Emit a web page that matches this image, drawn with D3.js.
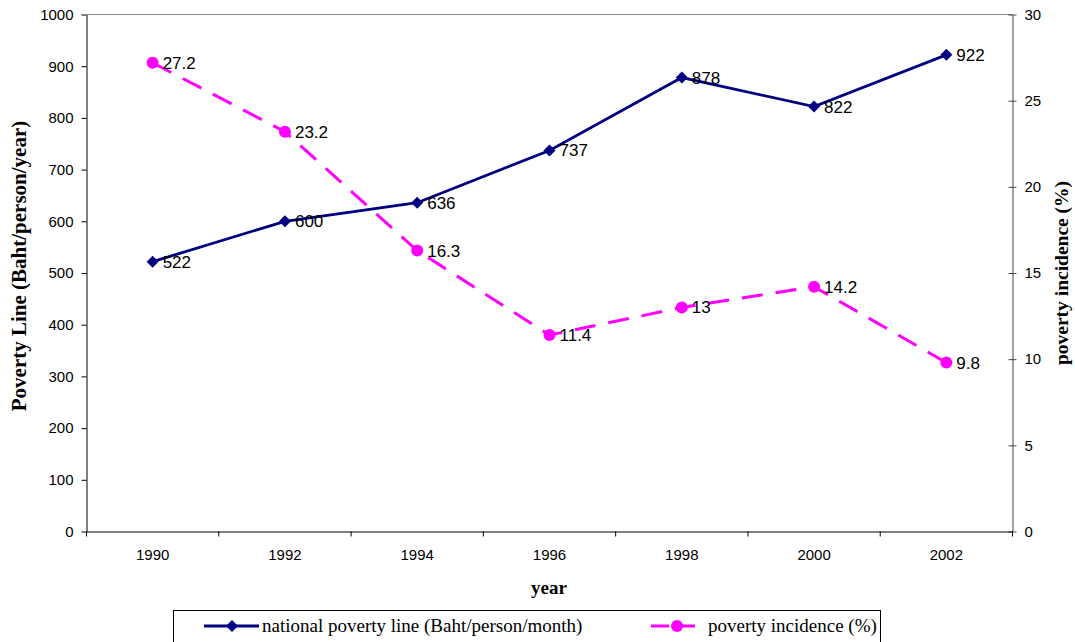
<!DOCTYPE html>
<html><head><meta charset="utf-8">
<script src="https://cdn.jsdelivr.net/npm/d3@7"></script>
<style>body{margin:0;background:#fff}svg{display:block}</style>
</head><body><svg id="c" width="1075" height="642"></svg>
<script>
const years = ["1990","1992","1994","1996","1998","2000","2002"];
const povertyLine = [522,600,636,737,878,822,922];
const povertyIncidence = [27.2,23.2,16.3,11.4,13,14.2,9.8];
const leftTicks = [0,100,200,300,400,500,600,700,800,900,1000];
const rightTicks = [0,5,10,15,20,25,30];

const svg = d3.select("#c");
const L=86.5, R=1012.5, T=14.5, B=531.5;
const x = d3.scaleBand().domain(years).range([L,R]);
const yL = d3.scaleLinear().domain([0,1000]).range([B,T]);
const yR = d3.scaleLinear().domain([0,30]).range([B,T]);
const cx = d => x(d)+x.bandwidth()/2;

// top border
svg.append("line").attr("x1",L).attr("x2",R).attr("y1",T).attr("y2",T).attr("stroke","#888").attr("stroke-width",1);

const sans = "Liberation Sans, Arial, sans-serif";
const serif = "Liberation Serif, Times New Roman, serif";

// left axis
const gl = svg.append("g").attr("transform",`translate(${L},0)`)
  .call(d3.axisLeft(yL).tickValues(leftTicks).tickFormat(d3.format("d")).tickSize(5).tickPadding(8).tickSizeOuter(0));
gl.select(".domain").attr("stroke","#000");
// right axis
const gr = svg.append("g").attr("transform",`translate(${R},0)`)
  .call(d3.axisRight(yR).tickValues(rightTicks).tickSize(4).tickPadding(8).tickSizeOuter(0));
gr.select(".domain").attr("stroke","#444");
gr.selectAll(".tick line").attr("x1",-4).attr("stroke","#444");
// bottom axis
const gb = svg.append("g").attr("transform",`translate(0,${B})`)
  .call(d3.axisBottom(x).tickSize(0).tickPadding(18).tickSizeOuter(0));
gb.select(".domain").attr("stroke","#000");
const bounds = years.map(d=>x(d)).concat([R]);
gb.selectAll(".bt").data(bounds).enter().append("line").attr("class","bt")
  .attr("x1",d=>d).attr("x2",d=>d).attr("y1",0).attr("y2",5).attr("stroke","#000");

[gl,gr,gb].forEach(g=>g.selectAll("text").attr("font-family",sans).attr("font-size",15).attr("fill","#000"));

// poverty incidence (dashed magenta)
const lineR = d3.line().x((d,i)=>cx(years[i])).y(d=>yR(d));
svg.append("path").datum(povertyIncidence).attr("d",lineR).attr("fill","none")
  .attr("stroke","#FF00FF").attr("stroke-width",3).attr("stroke-dasharray","21,13");
svg.selectAll(".pc").data(povertyIncidence).enter().append("circle")
  .attr("cx",(d,i)=>cx(years[i])).attr("cy",d=>yR(d)).attr("r",6).attr("fill","#FF00FF");

// poverty line (navy)
const lineL = d3.line().x((d,i)=>cx(years[i])).y(d=>yL(d));
svg.append("path").datum(povertyLine).attr("d",lineL).attr("fill","none")
  .attr("stroke","#000080").attr("stroke-width",2.8);
const diamond = s => `M0,${-s}L${s},0L0,${s}L${-s},0Z`;
svg.selectAll(".pd").data(povertyLine).enter().append("path")
  .attr("transform",(d,i)=>`translate(${cx(years[i])},${yL(d)})`).attr("d",diamond(6)).attr("fill","#000080");

// labels
svg.selectAll(".ll").data(povertyLine).enter().append("text")
  .attr("x",(d,i)=>cx(years[i])+10).attr("y",d=>yL(d)+6)
  .attr("font-family",sans).attr("font-size",17).text(d=>d);
svg.selectAll(".lr").data(povertyIncidence).enter().append("text")
  .attr("x",(d,i)=>cx(years[i])+10).attr("y",d=>yR(d)+6)
  .attr("font-family",sans).attr("font-size",17).text(d=>d);

// axis titles
svg.append("text").attr("transform",`translate(26,266) rotate(-90)`).attr("text-anchor","middle")
  .attr("font-family",serif).attr("font-weight","bold").attr("font-size",21).text("Poverty Line (Baht/person/year)");
svg.append("text").attr("transform",`translate(1068,273) rotate(-90)`).attr("text-anchor","middle")
  .attr("font-family",serif).attr("font-weight","bold").attr("font-size",19.5).text("poverty incidence (%)");
svg.append("text").attr("x",549).attr("y",594).attr("text-anchor","middle")
  .attr("font-family",serif).attr("font-weight","bold").attr("font-size",19).text("year");

// legend
const lg = svg.append("g");
lg.append("rect").attr("x",173.5).attr("y",610.5).attr("width",707).attr("height",34).attr("fill","#fff").attr("stroke","#000");
lg.append("line").attr("x1",204).attr("x2",259).attr("y1",626).attr("y2",626).attr("stroke","#000080").attr("stroke-width",2.8);
lg.append("path").attr("transform","translate(232,626)").attr("d",diamond(6)).attr("fill","#000080");
lg.append("text").attr("x",262).attr("y",632).attr("font-family",serif).attr("font-size",19).text("national poverty line (Baht/person/month)");
lg.append("line").attr("x1",651).attr("x2",700).attr("y1",626).attr("y2",626).attr("stroke","#FF00FF").attr("stroke-width",3).attr("stroke-dasharray","18,8");
lg.append("circle").attr("cx",677).attr("cy",626).attr("r",6).attr("fill","#FF00FF");
lg.append("text").attr("x",708).attr("y",632).attr("font-family",serif).attr("font-size",19).text("poverty incidence (%)");
</script></body></html>
